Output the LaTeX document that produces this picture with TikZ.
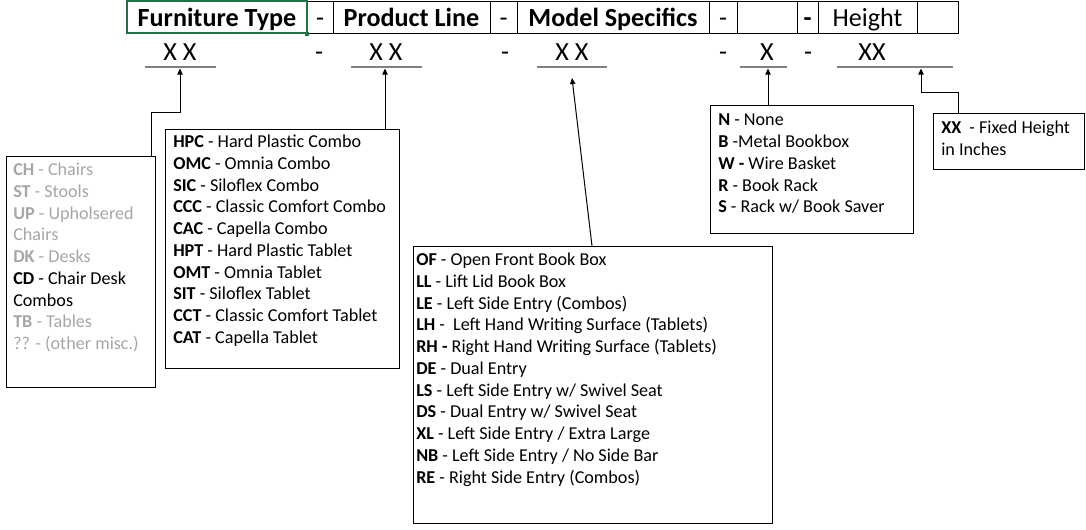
\documentclass[tikz,border=0pt]{standalone}
\usepackage{fontspec}
\setmainfont{Carlito}
\usetikzlibrary{fit,arrows.meta}
\definecolor{xlgreen}{HTML}{217346}
\definecolor{lgrey}{HTML}{A6A6A6}
\definecolor{ulgrey}{HTML}{808080}
\begin{document}
\begin{tikzpicture}[x=0.75pt,y=-0.75pt,
  cell/.style={draw=black,line width=0.75pt},
  hdr/.style={font=\fontsize{19.6}{22}\selectfont,anchor=base,inner sep=0},
  hdrb/.style={hdr,font=\fontsize{19.6}{22}\selectfont\bfseries},
  ul/.style={draw=ulgrey,line width=0.9pt},
  boxfit/.style={draw=black,line width=0.75pt,inner sep=0},
  list/.style={font=\fontsize{13.6}{16.3}\selectfont,align=left,anchor=base west,inner sep=0},
  arr/.style={line width=0.75pt,-{Triangle[length=4.5pt,width=4pt]}}
]
\useasboundingbox (0,0) rectangle (1086,529);
% header cells
\node[fit={(307,1)(333,33)},boxfit] (c2) {};
\node[fit={(333,1)(490,33)},boxfit] (c3) {};
\node[fit={(490,1)(517,33)},boxfit] (c4) {};
\node[fit={(517,1)(709,33)},boxfit] (c5) {};
\node[fit={(709,1)(737,33)},boxfit] (c6) {};
\node[fit={(737,1)(797,33)},boxfit] (c7) {};
\node[fit={(797,1)(818,33)},boxfit] (c8) {};
\node[fit={(818,1)(917,33)},boxfit] (c9) {};
\node[fit={(917,1)(958,33)},boxfit] (c10) {};
\node[fit={(127,1)(307,33)},draw=xlgreen,line width=1.1pt,inner sep=0] (c1) {};
\node[fill=xlgreen,minimum size=3pt,inner sep=0] (handle) at (307,34) {};
\node[hdrb] (t1) at (217,26) {Furniture Type};
\node[hdr] (t2) at (320,26) {-};
\node[hdrb] (t3) at (411.5,26) {Product Line};
\node[hdr] (t4) at (503.5,26) {-};
\node[hdrb] (t5) at (613,26) {Model Specifics};
\node[hdr] (t6) at (723,26) {-};
\node[hdrb] (t8) at (807.5,26) {-};
\node[hdr] (t9) at (867.5,26) {Height};
% second row
\node[hdr] (x1) at (180,60) {X X};
\node[hdr] (d1) at (319,60) {-};
\node[hdr] (x2) at (386,60) {X X};
\node[hdr] (d2) at (505,60) {-};
\node[hdr] (x3) at (572,60) {X X};
\node[hdr] (d3) at (723,60) {-};
\node[hdr] (x4) at (767,60) {X};
\node[hdr] (d4) at (808,60) {-};
\node[hdr] (x5) at (872,60) {XX};
\draw[ul] (145,67) -- (216,67);
\draw[ul] (351,67) -- (422,67);
\draw[ul] (537,67) -- (607,67);
\draw[ul] (740,67) -- (787,67);
\draw[ul] (837,67) -- (953,67);
\coordinate (u1) at (180,68.5);
\coordinate (u2) at (385,68.5);
\coordinate (u3) at (572,78);
\coordinate (u4) at (768,68.5);
\coordinate (u5) at (921,68.5);
% boxes
\node[fit={(6,156)(155,387)},boxfit] (b1) {};
\node[fit={(165,129)(399,368)},boxfit] (b2) {};
\node[fit={(413,246)(772,523)},boxfit] (b3) {};
\node[fit={(710,105)(913,233)},boxfit] (b4) {};
\node[fit={(933,113)(1084,169)},boxfit] (b5) {};
% texts (anchor = baseline of the last line)
\node[list,text=lgrey] (l1) at (13,349.6) {\textbf{CH} - Chairs\\
\textbf{ST} - Stools\\
\textbf{UP} - Upholsered\\
Chairs\\
\textbf{DK} - Desks\\
\textcolor{black}{\textbf{CD} - Chair Desk}\\
\textcolor{black}{Combos}\\
\textbf{TB} - Tables\\
?? - (other misc.)};
\node[list] (l2) at (173,343.3) {\textbf{HPC} - Hard Plastic Combo\\
\textbf{OMC} - Omnia Combo\\
\textbf{SIC} - Siloflex Combo\\
\textbf{CCC} - Classic Comfort Combo\\
\textbf{CAC} - Capella Combo\\
\textbf{HPT} - Hard Plastic Tablet\\
\textbf{OMT} - Omnia Tablet\\
\textbf{SIT} - Siloflex Tablet\\
\textbf{CCT} - Classic Comfort Tablet\\
\textbf{CAT} - Capella Tablet};
\node[list] (l3) at (416,483) {\textbf{OF} - Open Front Book Box\\
\textbf{LL} - Lift Lid Book Box\\
\textbf{LE} - Left Side Entry (Combos)\\
\textbf{LH} - \ Left Hand Writing Surface (Tablets)\\
\textbf{RH -} Right Hand Writing Surface (Tablets)\\
\textbf{DE} - Dual Entry\\
\textbf{LS} - Left Side Entry w/ Swivel Seat\\
\textbf{DS} - Dual Entry w/ Swivel Seat\\
\textbf{XL} - Left Side Entry / Extra Large\\
\textbf{NB} - Left Side Entry / No Side Bar\\
\textbf{RE} - Right Side Entry (Combos)};
\node[list] (l4) at (718,212.8) {\textbf{N} - None\\
\textbf{B} -Metal Bookbox\\
\textbf{W -} Wire Basket\\
\textbf{R} - Book Rack\\
\textbf{S} - Rack w/ Book Saver};
\node[list] (l5) at (941,155.7) {\textbf{XX} \ - Fixed Height\\
in Inches};
% connectors
\coordinate (k1) at (151,112);
\coordinate (k5) at (958,92);
\draw[arr] (k1 |- b1.north) -- (k1) -| (u1);
\draw[arr] (u2 |- b2.north) -- (u2);
\draw[arr] (592,246) -- (u3);
\draw[arr] (u4 |- b4.north) -- (u4);
\draw[arr] (k5 |- b5.north) -- (k5) -| (u5);
\end{tikzpicture}
\end{document}
